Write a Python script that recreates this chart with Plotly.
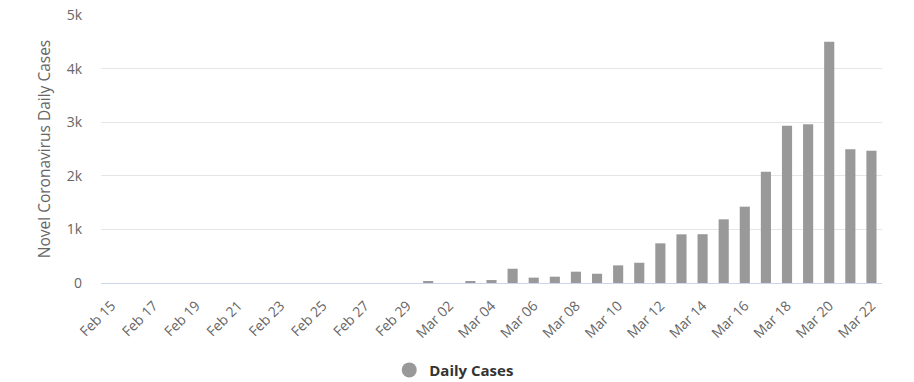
import plotly.graph_objects as go

feb_days = [f"Feb {d:02d}" for d in range(15, 30)]
mar_days = [f"Mar {d:02d}" for d in range(1, 23)]
dates = feb_days + mar_days

feb_cases = [0] * 15
mar_cases = [30, 0, 32, 55, 266, 100, 118, 211, 173, 329, 378, 740, 908, 910,
             1188, 1424, 2077, 2935, 2960, 4502, 2494, 2468]
daily_cases = feb_cases + mar_cases

tick_dates = dates[::2]
y_ticks = [0, 1000, 2000, 3000, 4000, 5000]
y_tick_labels = ["0", "1k", "2k", "3k", "4k", "5k"]

BAR = "#999999"

fig = go.Figure()
fig.add_trace(go.Bar(
    x=dates, y=daily_cases, marker=dict(color=BAR, line=dict(width=0)),
    name="Daily Cases", showlegend=False, legendgroup="d",
))
fig.add_trace(go.Scatter(
    x=[None], y=[None], mode="markers", name="<b>Daily Cases</b>",
    marker=dict(color=BAR, size=15, symbol="circle"), legendgroup="d",
))

fig.update_layout(
    width=914, height=382,
    margin=dict(l=101, r=32, t=15, b=99),
    paper_bgcolor="white", plot_bgcolor="white",
    font=dict(family="Open Sans", size=14, color="#666666"),
    bargap=0.52,
    showlegend=True,
    legend=dict(orientation="h", x=0.497, xanchor="center", xref="container",
                y=0.031, yanchor="middle", yref="container",
                font=dict(size=15, color="#333333"), itemwidth=30),
)
fig.update_xaxes(
    type="category", tickmode="array", tickvals=tick_dates, ticktext=tick_dates,
    tickangle=-45, showgrid=False, showline=True, linecolor="#ccd6eb", linewidth=1,
    ticks="", ticklabelstandoff=8, tickfont=dict(size=14, color="#666666"), automargin=False,
)
fig.update_yaxes(
    range=[0, 5000], tickmode="array", tickvals=y_ticks, ticktext=y_tick_labels,
    showgrid=True, gridcolor="#e6e6e6", gridwidth=1, zeroline=False, showline=False,
    ticklabelstandoff=18, tickfont=dict(size=14, color="#666666"), automargin=False,
    title=dict(text="Novel Coronavirus Daily Cases", font=dict(size=15.5, color="#666666"), standoff=12),
)

fig.write_html(
    "out.html",
    config={"displayModeBar": False},
    post_script="document.body.style.margin='0';document.body.style.overflow='hidden';",
)
